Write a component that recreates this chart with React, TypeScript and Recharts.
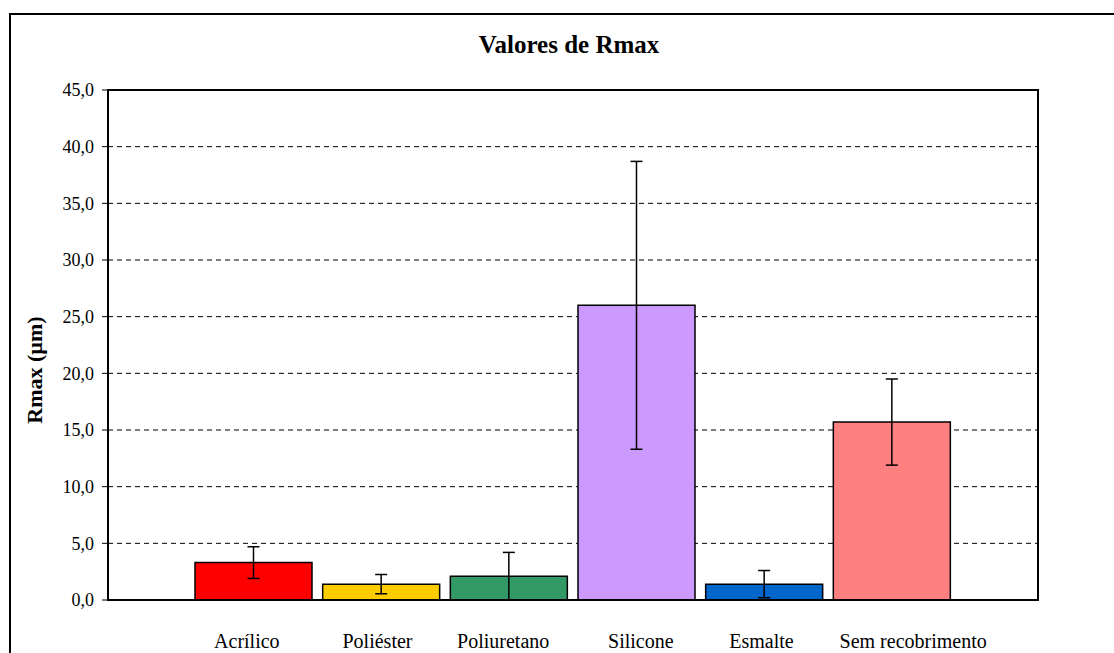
import { BarChart, Bar, XAxis, YAxis, CartesianGrid, Cell, ErrorBar } from "recharts";

// Rmax per coating, with standard deviation
const categories = ["Acrílico", "Poliéster", "Poliuretano", "Silicone", "Esmalte", "Sem recobrimento"];
const rmax = [3.3, 1.4, 2.1, 26.0, 1.4, 15.7];
const desvio = [1.4, 0.85, 2.1, 12.7, 1.2, 3.8];
const yTicks = [0, 5, 10, 15, 20, 25, 30, 35, 40, 45];

const COLORS = ["#ff0000", "#ffcc00", "#339966", "#cc99ff", "#0066cc", "#ff8080"];
const SERIF = "Liberation Serif, serif";
// category labels in the original are hand-placed text boxes, slightly off the bar centres
const LABEL_NUDGE = [-7, -4, -6, 4, -3, 21];

const data = categories.map((name, i) => ({ name, rmax: rmax[i], err: desvio[i] }));

const fmtTick = (v: number) => v.toFixed(1).replace(".", ",");

function CatTick({ x, y, payload, index }: any) {
  const i = index ?? 0;
  return (
    <text x={x + LABEL_NUDGE[i]} y={y} dy="0.71em" textAnchor="middle" fontFamily={SERIF} fontSize={20} fill="#000">
      {payload.value}
    </text>
  );
}

export default function App() {
  return (
    <div style={{ position: "absolute", left: 0, top: 0, width: 1114, height: 653, overflow: "hidden", background: "#fff", fontFamily: SERIF }}>
      {/* outer chart-area frame, runs off the picture on right and bottom */}
      <div style={{ position: "absolute", left: 9, top: 13, width: 1140, height: 700, border: "2px solid #000" }} />

      <div style={{ position: "absolute", left: 0, top: 31, width: 1138, textAlign: "center", fontSize: 25, fontWeight: "bold", color: "#000", fontFamily: SERIF }}>
        Valores de Rmax
      </div>

      <svg style={{ position: "absolute", left: 0, top: 0 }} width={80} height={653}>
        <text x={42} y={370} transform="rotate(-90 42 370)" textAnchor="middle" fontFamily={SERIF} fontSize={22} fontWeight="bold" fill="#000">
          Rmax (µm)
        </text>
      </svg>

      <div style={{ position: "absolute", left: 0, top: 0 }}>
        <BarChart width={1114} height={653} data={data} margin={{ top: 90, right: 76, bottom: 23, left: 48 }}>
          <CartesianGrid vertical={false} stroke="#000" strokeDasharray="5 4" />
          <XAxis
            dataKey="name"
            axisLine={false}
            tickLine={false}
            tickSize={0}
            tickMargin={34}
            height={30}
            padding={{ left: 82, right: 82 }}
            interval={0}
            tick={<CatTick />}
          />
          <YAxis
            width={60}
            domain={[0, 45]}
            ticks={yTicks}
            tickFormatter={fmtTick}
            axisLine={false}
            tickLine={{ stroke: "#000" }}
            tickSize={6}
            tickMargin={8}
            tick={{ fontSize: 18, fill: "#000", fontFamily: SERIF }}
          />
          <Bar dataKey="rmax" barSize={117} stroke="#000" strokeWidth={1.5} isAnimationActive={false}>
            {data.map((_, i) => <Cell key={i} fill={COLORS[i]} />)}
            <ErrorBar dataKey="err" width={6} stroke="#000" strokeWidth={1.5} />
          </Bar>
        </BarChart>
      </div>

      {/* plot area border */}
      <div style={{ position: "absolute", left: 107, top: 89, width: 932, height: 512, boxSizing: "border-box", border: "2px solid #000", pointerEvents: "none" }} />
    </div>
  );
}
